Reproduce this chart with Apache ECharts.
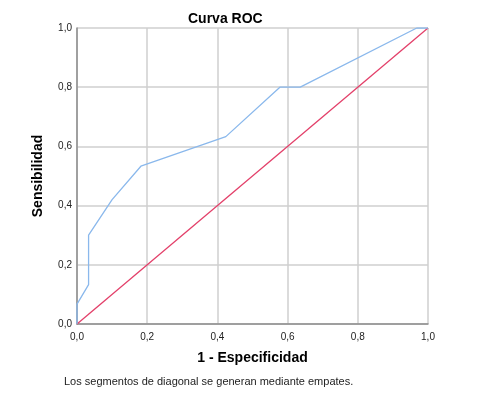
<!DOCTYPE html>
<html>
<head>
<meta charset="utf-8">
<script src="https://cdn.jsdelivr.net/npm/echarts@6/dist/echarts.min.js"></script>
<style>
  html, body { margin: 0; padding: 0; background: #fff; }
  #chart { width: 480px; height: 396px; }
</style>
</head>
<body>
<div id="chart"></div>
<script>
// curva ROC (1 - especificidad, sensibilidad)
const rocX = [0, 0, 0.033, 0.033, 0.1, 0.182, 0.424, 0.578, 0.636, 0.968, 1]
const rocY = [0, 0.067, 0.133, 0.3, 0.42, 0.533, 0.633, 0.8, 0.8, 1, 1]
const diagX = [0, 1]
const diagY = [0, 1]
const ticks = [0, 0.2, 0.4, 0.6, 0.8, 1]

const font = '"Liberation Sans", Arial, sans-serif'
const fmt = (v) => v.toFixed(1).replace('.', ',')

const chart = echarts.init(document.getElementById('chart'))

const axisCommon = {
  type: 'value',
  min: ticks[0],
  max: ticks[ticks.length - 1],
  interval: 0.2,
  nameLocation: 'middle',
  nameTextStyle: { fontFamily: font, fontSize: 14, fontWeight: 'bold', color: '#000' },
  axisLine: { show: true, lineStyle: { color: '#8c8c8c', width: 1.5 } },
  axisTick: { show: false },
  axisLabel: { formatter: fmt, fontFamily: font, fontSize: 10, color: '#222' },
  splitLine: { show: true, lineStyle: { color: '#cfcfcf', width: 1.5 } }
}

chart.setOption({
  animation: false,
  backgroundColor: '#fff',
  title: {
    text: 'Curva ROC',
    left: 183,
    top: 7,
    textStyle: { fontFamily: font, fontSize: 14, fontWeight: 'bold', color: '#000' }
  },
  grid: { left: 77, right: 52, top: 28, bottom: 72 },
  xAxis: Object.assign({}, axisCommon, {
    name: '1 - Especificidad',
    nameGap: 27,
    axisLabel: Object.assign({}, axisCommon.axisLabel, { margin: 8 })
  }),
  yAxis: Object.assign({}, axisCommon, {
    name: 'Sensibilidad',
    nameGap: 32,
    nameRotate: 90,
    axisLabel: Object.assign({}, axisCommon.axisLabel, { margin: 5 })
  }),
  graphic: [{
    type: 'text',
    left: 64,
    top: 376,
    style: {
      text: 'Los segmentos de diagonal se generan mediante empates.',
      fontFamily: font,
      fontSize: 11,
      fill: '#222'
    }
  }],
  series: [
    {
      type: 'line',
      data: rocX.map((x, i) => [x, rocY[i]]),
      showSymbol: false,
      lineStyle: { color: '#8ab8ec', width: 1.3 },
      z: 3
    },
    {
      type: 'line',
      data: diagX.map((x, i) => [x, diagY[i]]),
      showSymbol: false,
      lineStyle: { color: '#e3406a', width: 1.3 },
      z: 2
    }
  ]
})
</script>
</body>
</html>
